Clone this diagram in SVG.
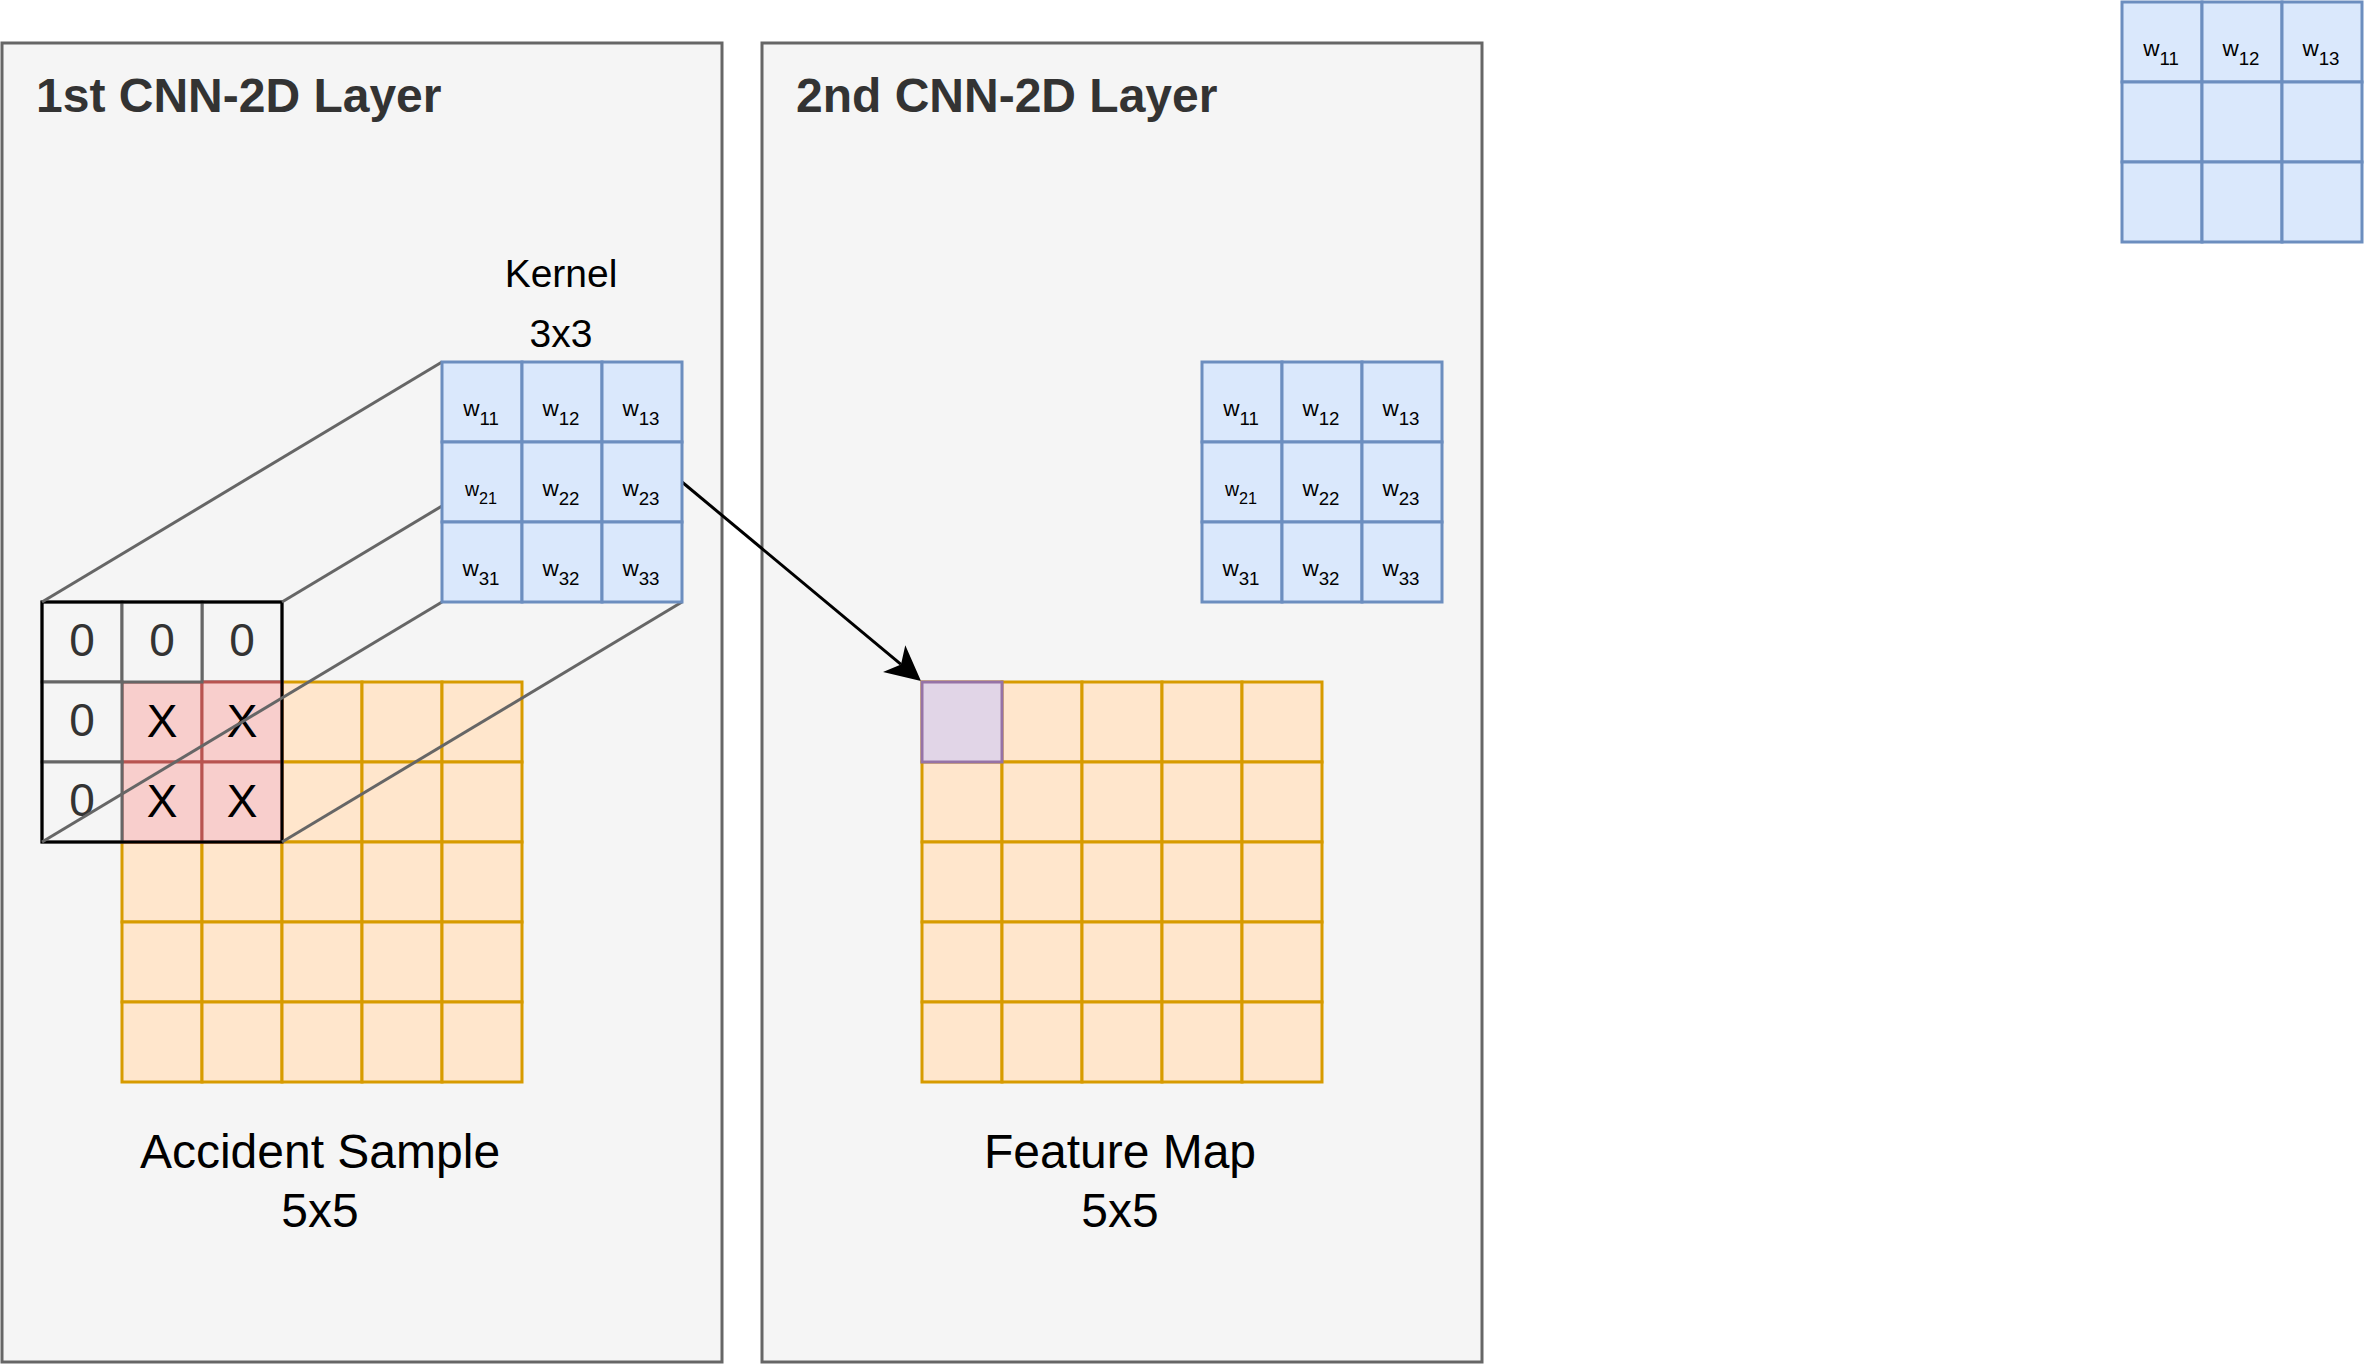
<svg xmlns="http://www.w3.org/2000/svg" width="2364" height="1364" viewBox="0 0 2364 1364">
<defs>
<style>
text{font-family:"Liberation Sans",Arial,Helvetica,sans-serif}
.layer{fill:#f5f5f5;stroke:#666666;stroke-width:3}
.title{font-size:48px;font-weight:bold;fill:#333333}
.or{fill:#ffe6cc;stroke:#d79b00;stroke-width:3}
.rd{fill:#f8cecc;stroke:#b85450;stroke-width:3}
.zc{fill:#f5f5f5;stroke:#666666;stroke-width:3}
.pu{fill:#e1d5e7;stroke:#9673a6;stroke-width:3}
.kc{fill:#dae8fc;stroke:#6c8ebf;stroke-width:3}
.win{fill:none;stroke:#000000;stroke-width:3}
.persp{stroke:#666666;stroke-width:3;fill:none}
.arrow{stroke:#000000;stroke-width:3;fill:none}
.big{font-size:48px;fill:#000000;text-anchor:middle}
.cellt{font-size:46px;text-anchor:middle}
.zt{fill:#333333}
.xt{fill:#000000}
.w{font-size:22.5px;fill:#000000;text-anchor:middle}
.w .s{font-size:18.7px}
.ws{font-size:19.5px;fill:#000000;text-anchor:middle}
.ws .s{font-size:16.2px}
.klab{font-size:39px;fill:#000000;text-anchor:middle}
</style>
<marker id="arr" viewBox="0 0 35 35" refX="9" refY="17.5" markerWidth="35" markerHeight="35" markerUnits="userSpaceOnUse" orient="auto">
<path d="M0,0 L35,17.5 L0,35 L9,17.5 Z" fill="#000000"/>
</marker>
</defs>

<g id="layer1">
<rect class="layer" x="2" y="43" width="720" height="1319"/>
<text class="title" x="36" y="112">1st CNN-2D Layer</text>
</g>
<g id="layer2">
<rect class="layer" x="762" y="43" width="720" height="1319"/>
<text class="title" x="796" y="112">2nd CNN-2D Layer</text>
</g>

<g id="accident-sample">
<rect class="or" x="122" y="682" width="80" height="80"/><rect class="or" x="202" y="682" width="80" height="80"/><rect class="or" x="282" y="682" width="80" height="80"/><rect class="or" x="362" y="682" width="80" height="80"/><rect class="or" x="442" y="682" width="80" height="80"/>
<rect class="or" x="122" y="762" width="80" height="80"/><rect class="or" x="202" y="762" width="80" height="80"/><rect class="or" x="282" y="762" width="80" height="80"/><rect class="or" x="362" y="762" width="80" height="80"/><rect class="or" x="442" y="762" width="80" height="80"/>
<rect class="or" x="122" y="842" width="80" height="80"/><rect class="or" x="202" y="842" width="80" height="80"/><rect class="or" x="282" y="842" width="80" height="80"/><rect class="or" x="362" y="842" width="80" height="80"/><rect class="or" x="442" y="842" width="80" height="80"/>
<rect class="or" x="122" y="922" width="80" height="80"/><rect class="or" x="202" y="922" width="80" height="80"/><rect class="or" x="282" y="922" width="80" height="80"/><rect class="or" x="362" y="922" width="80" height="80"/><rect class="or" x="442" y="922" width="80" height="80"/>
<rect class="or" x="122" y="1002" width="80" height="80"/><rect class="or" x="202" y="1002" width="80" height="80"/><rect class="or" x="282" y="1002" width="80" height="80"/><rect class="or" x="362" y="1002" width="80" height="80"/><rect class="or" x="442" y="1002" width="80" height="80"/>
<text class="big" x="320" y="1168">Accident Sample</text>
<text class="big" x="320" y="1227">5x5</text>
</g>

<g id="padding-window">
<rect class="zc" x="202" y="602" width="80" height="80"/>
<rect class="rd" x="122" y="682" width="80" height="80"/>
<rect class="rd" x="202" y="682" width="80" height="80"/>
<rect class="rd" x="122" y="762" width="80" height="80"/>
<rect class="rd" x="202" y="762" width="80" height="80"/>
<rect class="zc" x="42" y="602" width="80" height="80"/>
<rect class="zc" x="122" y="602" width="80" height="80"/>
<rect class="zc" x="42" y="682" width="80" height="80"/>
<rect class="zc" x="42" y="762" width="80" height="80"/>
<rect class="win" x="42" y="602" width="240" height="240"/>
<text class="cellt zt" x="82" y="656">0</text>
<text class="cellt zt" x="162" y="656">0</text>
<text class="cellt zt" x="242" y="656">0</text>
<text class="cellt zt" x="82" y="736">0</text>
<text class="cellt zt" x="82" y="816">0</text>
<text class="cellt xt" x="162" y="737">X</text>
<text class="cellt xt" x="242" y="737">X</text>
<text class="cellt xt" x="162" y="817">X</text>
<text class="cellt xt" x="242" y="817">X</text>
</g>

<g id="connectors">
<line class="persp" x1="442" y1="362" x2="42" y2="602"/>
<line class="persp" x1="682" y1="362" x2="282" y2="602"/>
<line class="persp" x1="442" y1="602" x2="42" y2="842"/>
<line class="persp" x1="682" y1="602" x2="282" y2="842"/>
<line class="arrow" x1="682" y1="482" x2="901" y2="664.4" marker-end="url(#arr)"/>
</g>

<g id="kernel1">
<text class="klab" x="561" y="287">Kernel</text>
<text class="klab" x="561" y="347">3x3</text>
<rect class="kc" x="442" y="362" width="80" height="80"/><rect class="kc" x="522" y="362" width="80" height="80"/><rect class="kc" x="602" y="362" width="80" height="80"/>
<rect class="kc" x="442" y="442" width="80" height="80"/><rect class="kc" x="522" y="442" width="80" height="80"/><rect class="kc" x="602" y="442" width="80" height="80"/>
<rect class="kc" x="442" y="522" width="80" height="80"/><rect class="kc" x="522" y="522" width="80" height="80"/><rect class="kc" x="602" y="522" width="80" height="80"/>
<text class="w" x="481" y="416">w<tspan class="s" dy="9">11</tspan></text>
<text class="w" x="561" y="416">w<tspan class="s" dy="9">12</tspan></text>
<text class="w" x="641" y="416">w<tspan class="s" dy="9">13</tspan></text>
<text class="ws" x="481" y="496">w<tspan class="s" dy="8">21</tspan></text>
<text class="w" x="561" y="496">w<tspan class="s" dy="9">22</tspan></text>
<text class="w" x="641" y="496">w<tspan class="s" dy="9">23</tspan></text>
<text class="w" x="481" y="576">w<tspan class="s" dy="9">31</tspan></text>
<text class="w" x="561" y="576">w<tspan class="s" dy="9">32</tspan></text>
<text class="w" x="641" y="576">w<tspan class="s" dy="9">33</tspan></text>
</g>

<g id="feature-map">
<rect class="or" x="922" y="682" width="80" height="80"/><rect class="or" x="1002" y="682" width="80" height="80"/><rect class="or" x="1082" y="682" width="80" height="80"/><rect class="or" x="1162" y="682" width="80" height="80"/><rect class="or" x="1242" y="682" width="80" height="80"/>
<rect class="or" x="922" y="762" width="80" height="80"/><rect class="or" x="1002" y="762" width="80" height="80"/><rect class="or" x="1082" y="762" width="80" height="80"/><rect class="or" x="1162" y="762" width="80" height="80"/><rect class="or" x="1242" y="762" width="80" height="80"/>
<rect class="or" x="922" y="842" width="80" height="80"/><rect class="or" x="1002" y="842" width="80" height="80"/><rect class="or" x="1082" y="842" width="80" height="80"/><rect class="or" x="1162" y="842" width="80" height="80"/><rect class="or" x="1242" y="842" width="80" height="80"/>
<rect class="or" x="922" y="922" width="80" height="80"/><rect class="or" x="1002" y="922" width="80" height="80"/><rect class="or" x="1082" y="922" width="80" height="80"/><rect class="or" x="1162" y="922" width="80" height="80"/><rect class="or" x="1242" y="922" width="80" height="80"/>
<rect class="or" x="922" y="1002" width="80" height="80"/><rect class="or" x="1002" y="1002" width="80" height="80"/><rect class="or" x="1082" y="1002" width="80" height="80"/><rect class="or" x="1162" y="1002" width="80" height="80"/><rect class="or" x="1242" y="1002" width="80" height="80"/>
<rect class="pu" x="922" y="682" width="80" height="80"/>
<text class="big" x="1120" y="1168">Feature Map</text>
<text class="big" x="1120" y="1227">5x5</text>
</g>

<g id="kernel2">
<rect class="kc" x="1202" y="362" width="80" height="80"/><rect class="kc" x="1282" y="362" width="80" height="80"/><rect class="kc" x="1362" y="362" width="80" height="80"/>
<rect class="kc" x="1202" y="442" width="80" height="80"/><rect class="kc" x="1282" y="442" width="80" height="80"/><rect class="kc" x="1362" y="442" width="80" height="80"/>
<rect class="kc" x="1202" y="522" width="80" height="80"/><rect class="kc" x="1282" y="522" width="80" height="80"/><rect class="kc" x="1362" y="522" width="80" height="80"/>
<text class="w" x="1241" y="416">w<tspan class="s" dy="9">11</tspan></text>
<text class="w" x="1321" y="416">w<tspan class="s" dy="9">12</tspan></text>
<text class="w" x="1401" y="416">w<tspan class="s" dy="9">13</tspan></text>
<text class="ws" x="1241" y="496">w<tspan class="s" dy="8">21</tspan></text>
<text class="w" x="1321" y="496">w<tspan class="s" dy="9">22</tspan></text>
<text class="w" x="1401" y="496">w<tspan class="s" dy="9">23</tspan></text>
<text class="w" x="1241" y="576">w<tspan class="s" dy="9">31</tspan></text>
<text class="w" x="1321" y="576">w<tspan class="s" dy="9">32</tspan></text>
<text class="w" x="1401" y="576">w<tspan class="s" dy="9">33</tspan></text>
</g>

<g id="kernel3">
<rect class="kc" x="2122" y="2" width="80" height="80"/><rect class="kc" x="2202" y="2" width="80" height="80"/><rect class="kc" x="2282" y="2" width="80" height="80"/>
<rect class="kc" x="2122" y="82" width="80" height="80"/><rect class="kc" x="2202" y="82" width="80" height="80"/><rect class="kc" x="2282" y="82" width="80" height="80"/>
<rect class="kc" x="2122" y="162" width="80" height="80"/><rect class="kc" x="2202" y="162" width="80" height="80"/><rect class="kc" x="2282" y="162" width="80" height="80"/>
<text class="w" x="2161" y="56">w<tspan class="s" dy="9">11</tspan></text>
<text class="w" x="2241" y="56">w<tspan class="s" dy="9">12</tspan></text>
<text class="w" x="2321" y="56">w<tspan class="s" dy="9">13</tspan></text>
</g>
</svg>
